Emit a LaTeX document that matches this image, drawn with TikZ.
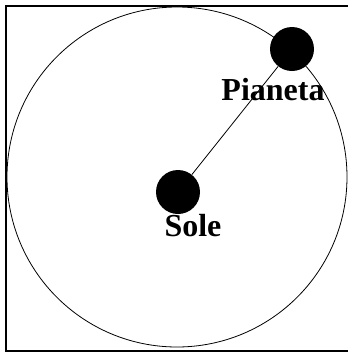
\documentclass[tikz,border=0pt]{standalone}
\usepackage{fontspec}
\setmainfont{Liberation Serif}
\usetikzlibrary{positioning}

\begin{document}
\begin{tikzpicture}[x=1pt,y=-1pt,
    body/.style={circle,fill=black,inner sep=0pt,minimum size=44pt},
    name label/.style={font=\fontsize{32}{36}\selectfont\bfseries,inner sep=0pt,anchor=base}]

  % -------- INPUT --------
  \def\R{170}            % orbit radius

  % Page size
  \useasboundingbox (0,0) rectangle (348,354);

  % Frame
  \draw[line width=2pt] (6,6) rectangle (352,351);

  % Orbit
  \coordinate (centro) at (177,177);
  \draw[line width=0.8pt] (centro) circle (\R);

  % Bodies
  \node[body] (sole) at (178,192) {};
  \node[body] (pianeta) at (292,49) {};
  \draw[line width=0.8pt] (sole) -- (pianeta);

  % Names
  \node[name label] (lsole) at (193,236) {Sole};
  \node[name label] (lpianeta) at (273,100) {Pianeta};

\end{tikzpicture}
\end{document}
